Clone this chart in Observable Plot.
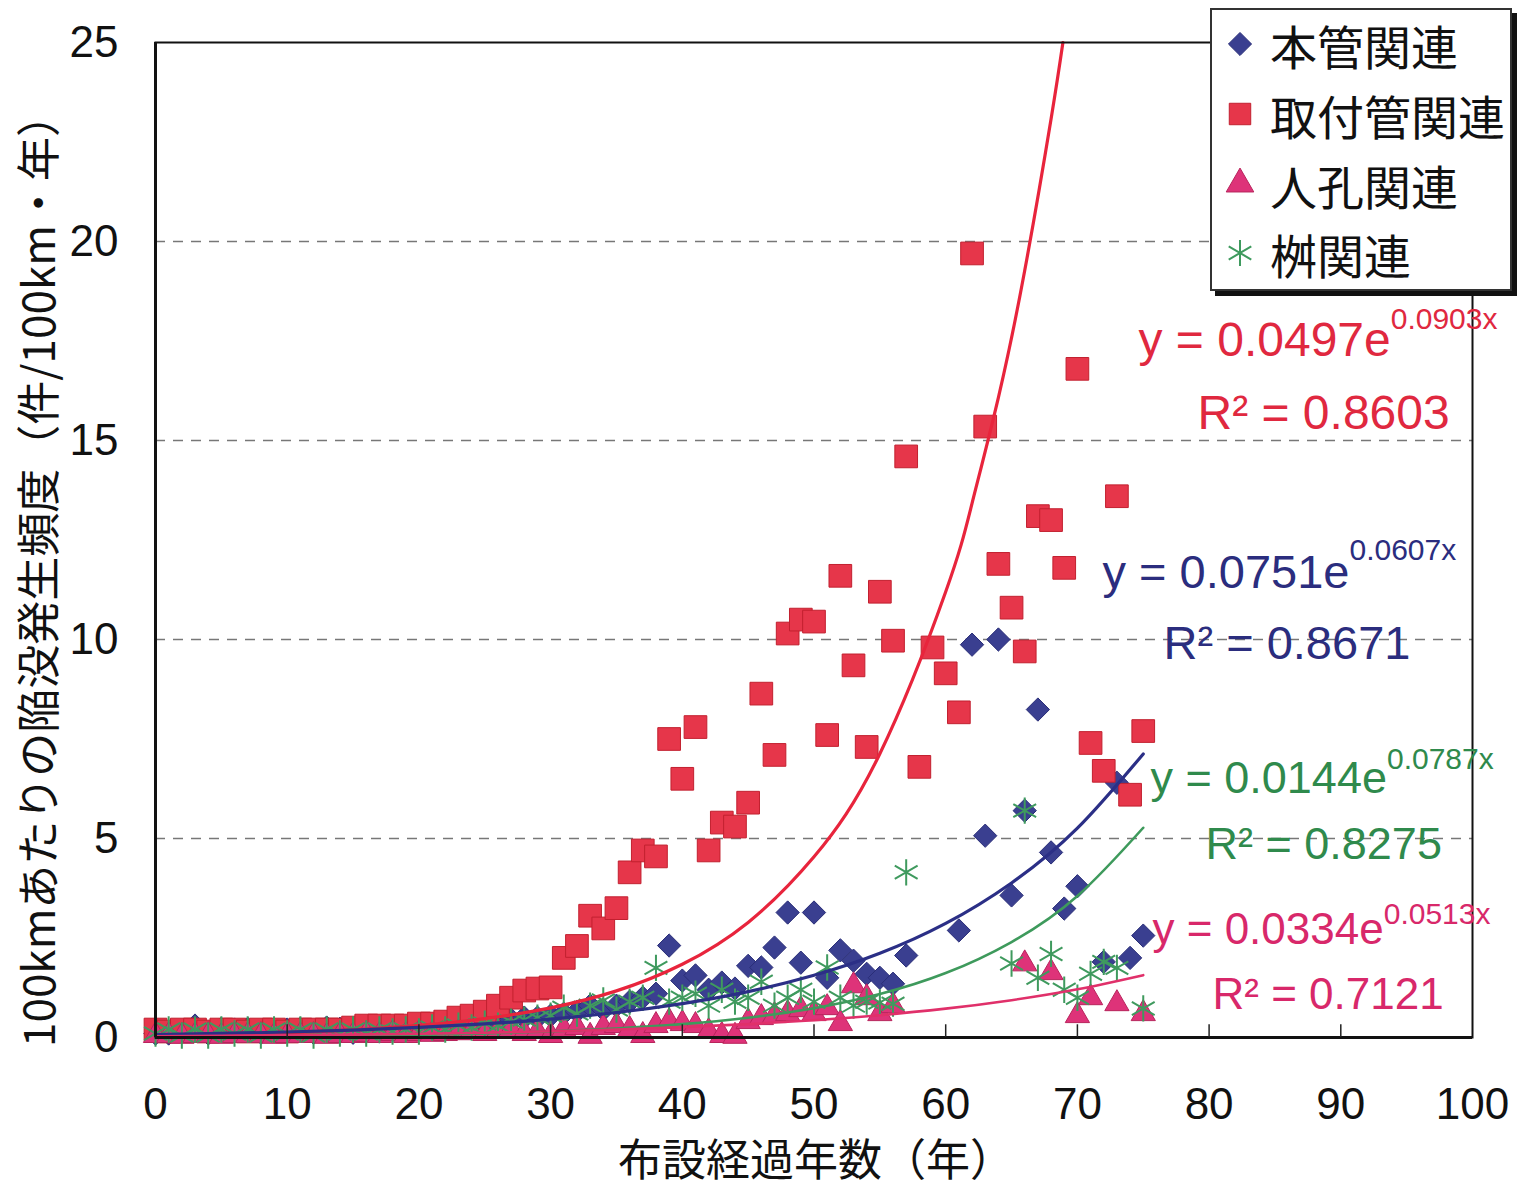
<!DOCTYPE html>
<html><head><meta charset="utf-8">
<script src="https://cdn.jsdelivr.net/npm/d3@7"></script>
<script src="https://cdn.jsdelivr.net/npm/@observablehq/plot@0.6"></script>
<style>
body{margin:0;background:#fff;}
#wrap{position:relative;width:1518px;height:1190px;}
#legend{position:absolute;left:1210px;top:8px;width:302px;height:283px;background:#fff;border:2px solid #333;box-shadow:5px 5px 0 #111;box-sizing:border-box;font-family:"Noto Sans CJK JP";font-size:47px;color:#111;}
.row{position:absolute;left:8px;height:60px;display:flex;align-items:center;white-space:nowrap;}
.row svg{margin-right:10px;}
</style></head>
<body><div id="wrap"><div id="chart"></div><div id="legend"></div></div>
<script>
// ---- data ----
const seriesNames = ["本管関連", "取付管関連", "人孔関連", "桝関連"];
const xTicks = [0,10,20,30,40,50,60,70,80,90,100];
const yTicks = [0,5,10,15,20,25];
const xLabel = "布設経過年数（年）";
const yLabel = "100kmあたりの陥没発生頻度（件/100km・年）";

const honkan = [[0,0.1],[1,0.1],[2,0.15],[3,0.3],[4,0.1],[5,0.22],[6,0.2],[7,0.22],[8,0.12],[9,0.2],[10,0.2],[11,0.22],[12,0.12],[13,0.25],[14,0.22],[15,0.12],[16,0.15],[17,0.15],[18,0.18],[19,0.2],[20,0.2],[21,0.22],[22,0.25],[23,0.3],[24,0.3],[25,0.35],[26,0.4],[27,0.45],[28,0.5],[29,0.5],[30,0.55],[31,0.6],[32,0.65],[33,0.8],[34,0.7],[35,0.8],[36,0.9],[37,1.0],[38,1.1],[39,2.31],[40,1.43],[41,1.56],[42,1.2],[43,1.38],[44,1.23],[45,1.8],[46,1.76],[47,2.26],[48,3.14],[49,1.88],[50,3.14],[51,1.5],[52,2.19],[53,1.93],[54,1.6],[55,1.5],[56,1.35],[57,2.06],[61,2.69],[62,9.87],[63,5.07],[64,10.0],[65,3.57],[66,5.7],[67,8.24],[68,4.65],[69,3.24],[70,3.8],[72,1.9],[73,6.4],[74,2.0],[75,2.56]];
const toritsuke = [[0,0.2],[1,0.15],[2,0.2],[3,0.2],[4,0.15],[5,0.2],[6,0.2],[7,0.15],[8,0.2],[9,0.2],[10,0.15],[11,0.2],[12,0.2],[13,0.2],[14,0.2],[15,0.25],[16,0.3],[17,0.3],[18,0.3],[19,0.3],[20,0.35],[21,0.35],[22,0.4],[23,0.5],[24,0.55],[25,0.65],[26,0.8],[27,1.0],[28,1.18],[29,1.23],[30,1.26],[31,2.0],[32,2.3],[33,3.06],[34,2.74],[35,3.25],[36,4.15],[37,4.7],[38,4.55],[39,7.5],[40,6.5],[41,7.8],[42,4.7],[43,5.4],[44,5.3],[45,5.9],[46,8.64],[47,7.1],[48,10.15],[49,10.5],[50,10.45],[51,7.6],[52,11.6],[53,9.35],[54,7.3],[55,11.2],[56,9.97],[57,14.6],[58,6.8],[59,9.8],[60,9.15],[61,8.17],[62,19.7],[63,15.35],[64,11.9],[65,10.8],[66,9.7],[67,13.1],[68,13.0],[69,11.8],[70,16.8],[71,7.4],[72,6.7],[73,13.6],[74,6.1],[75,7.7]];
const jinkou = [[0,0.05],[1,0.05],[2,0.03],[3,0.05],[4,0.05],[5,0.03],[6,0.05],[7,0.05],[8,0.05],[9,0.03],[10,0.05],[11,0.05],[12,0.05],[13,0.03],[14,0.05],[15,0.05],[16,0.08],[17,0.05],[18,0.1],[19,0.05],[20,0.1],[21,0.08],[22,0.1],[23,0.12],[24,0.15],[25,0.1],[26,0.15],[27,0.2],[28,0.1],[29,0.15],[30,0.05],[31,0.2],[32,0.25],[33,0.03],[34,0.25],[35,0.3],[36,0.2],[37,0.05],[38,0.3],[39,0.4],[40,0.35],[41,0.3],[42,0.15],[43,0.05],[44,0.03],[45,0.4],[46,0.5],[47,0.55],[48,0.6],[49,0.7],[50,0.6],[51,0.75],[52,0.35],[53,1.3],[54,1.0],[55,0.6],[56,0.8],[66,1.85],[68,1.63],[70,0.55],[71,1.0],[73,0.85],[75,0.6]];
const masu = [[0,0.1],[1,0.2],[2,0.05],[3,0.2],[4,0.05],[5,0.2],[6,0.1],[7,0.2],[8,0.05],[9,0.2],[10,0.1],[11,0.2],[12,0.05],[13,0.2],[14,0.1],[15,0.2],[16,0.1],[17,0.2],[18,0.15],[19,0.2],[20,0.15],[21,0.25],[22,0.2],[23,0.3],[24,0.25],[25,0.35],[26,0.3],[27,0.4],[28,0.45],[29,0.5],[30,0.55],[31,0.75],[32,0.6],[33,0.8],[34,0.93],[35,0.7],[36,0.9],[37,1.0],[38,1.75],[39,0.9],[40,1.0],[41,1.1],[42,0.8],[43,1.2],[44,0.9],[45,1.0],[46,1.4],[47,0.8],[48,1.0],[49,1.2],[50,0.9],[51,1.76],[52,1.0],[53,0.8],[54,0.9],[55,0.88],[56,0.85],[57,4.15],[65,1.86],[66,5.7],[67,1.5],[68,2.1],[69,1.2],[70,1.0],[71,1.6],[72,1.9],[73,1.75],[75,0.73]];

// trend curves
const honkanTrend = [[0,0.075],[5,0.102],[10,0.138],[15,0.187],[20,0.253],[25,0.343],[30,0.464],[35,0.629],[40,0.852],[45,1.153],[50,1.562],[55,2.116],[60,2.866],[65,3.883],[70,5.26],[75,7.125]];
const toritsukeTrend = [[0,0.05],[5,0.078],[10,0.123],[15,0.193],[20,0.303],[25,0.475],[30,0.746],[35,1.172],[40,1.841],[45,2.892],[50,4.541],[55,7.13],[60,11.2],[62,13.42],[64,16.08],[66,19.27],[68,23.08],[68.9,25.0]];
const jinkouTrend = [[0,0.033],[5,0.043],[10,0.056],[15,0.072],[20,0.093],[25,0.12],[30,0.156],[35,0.201],[40,0.26],[45,0.336],[50,0.434],[55,0.561],[60,0.725],[65,0.938],[70,1.211],[75,1.566]];
const masuTrend = [[0,0.014],[5,0.021],[10,0.032],[15,0.047],[20,0.07],[25,0.103],[30,0.153],[35,0.226],[40,0.335],[45,0.497],[50,0.737],[55,1.092],[60,1.619],[65,2.399],[70,3.556],[75,5.27]];

const fitEquations = ["y = 0.0751e", "y = 0.0497e", "y = 0.0334e", "y = 0.0144e"];
const fitExponents = ["0.0607x", "0.0903x", "0.0513x", "0.0787x"];
const fitR2 = ["R² = 0.8671", "R² = 0.8603", "R² = 0.7121", "R² = 0.8275"];

// ---- styles / layout ----
const colors = {
  honkan: {fill:"#3a3f90", stroke:"#2a2e78", line:"#2b2f86", text:"#2b2d7e"},
  toritsuke: {fill:"#e6364a", stroke:"#c2202f", line:"#e8243c", text:"#e0283f"},
  jinkou: {fill:"#de3379", stroke:"#b8245c", line:"#e0306a", text:"#d8286a"},
  masu: {fill:"none", stroke:"#3f9a5e", line:"#3e9a5c", text:"#2f8a4c"}
};
const order = ["honkan","toritsuke","jinkou","masu"];
// annotation placement in pixels (baseline-left)
const annLayout = [
  {eq:[1102,587], r2:[1163,658], size:47, raise:28},
  {eq:[1138,355], r2:[1197,428], size:48, raise:27},
  {eq:[1152,943], r2:[1212,1008], size:44, raise:20},
  {eq:[1150,792], r2:[1205,858], size:45, raise:24}
];
const M = {left:155, right:46, top:42, bottom:153};

const pts = a => a.map(([x,y]) => ({x,y}));

const annMarks = [];
order.forEach((k,i) => {
  const L = annLayout[i];
  annMarks.push(Plot.text([fitEquations[i]], {text:d=>d, frameAnchor:"top-left", dx:L.eq[0]-M.left, dy:L.eq[1]-M.top, textAnchor:"start", lineAnchor:"bottom", fontSize:L.size, fill:colors[k].text}));
  annMarks.push(Plot.text([fitR2[i]], {text:d=>d, frameAnchor:"top-left", dx:L.r2[0]-M.left, dy:L.r2[1]-M.top, textAnchor:"start", lineAnchor:"bottom", fontSize:L.size, fill:colors[k].text}));
});

const chart = Plot.plot({
  width:1518, height:1190,
  marginLeft:M.left, marginRight:M.right, marginTop:M.top, marginBottom:M.bottom,
  style:{fontFamily:"'Liberation Sans', Arial, sans-serif", fontSize:"44px", color:"#111", background:"#fff", overflow:"visible"},
  x:{domain:[0,100]},
  y:{domain:[0,25]},
  marks:[
    Plot.ruleY(yTicks.filter(v => v>0 && v<25), {y:d=>d, stroke:"#777", strokeWidth:1.6, strokeDasharray:"10,8"}),
    Plot.dot(pts(honkan), {x:"x", y:"y", symbol:"diamond2", r:10.5, fill:colors.honkan.fill, stroke:colors.honkan.stroke, strokeWidth:1}),
    Plot.dot(pts(toritsuke), {x:"x", y:"y", symbol:"square", r:12.8, fill:colors.toritsuke.fill, stroke:colors.toritsuke.stroke, strokeWidth:1}),
    Plot.dot(pts(jinkou), {x:"x", y:"y", symbol:"triangle", r:9, fill:colors.jinkou.fill, stroke:colors.jinkou.stroke, strokeWidth:1}),
    Plot.dot(pts(masu), {x:"x", y:"y", symbol:"asterisk", r:12.5, fill:"none", stroke:colors.masu.stroke, strokeWidth:2}),
    Plot.line(pts(toritsukeTrend), {x:"x", y:"y", stroke:colors.toritsuke.line, strokeWidth:3.2, curve:"natural"}),
    Plot.line(pts(honkanTrend), {x:"x", y:"y", stroke:colors.honkan.line, strokeWidth:3.2, curve:"natural"}),
    Plot.line(pts(masuTrend), {x:"x", y:"y", stroke:colors.masu.line, strokeWidth:2.6, curve:"natural"}),
    Plot.line(pts(jinkouTrend), {x:"x", y:"y", stroke:colors.jinkou.line, strokeWidth:2.6, curve:"natural"}),
    Plot.frame({stroke:"#111", strokeWidth:2}),
    Plot.ruleX([0], {stroke:"#111", strokeWidth:3}),
    Plot.ruleY([0], {stroke:"#111", strokeWidth:3}),
    Plot.ruleX(xTicks.filter(v => v>0 && v<100), {x:d=>d, y1:0, y2:0.32, stroke:"#222", strokeWidth:1.5}),
    Plot.axisX({ticks:xTicks, tickSize:0, tickPadding:50, label:null, fontSize:44, fill:"#111"}),
    Plot.axisY({ticks:yTicks, tickSize:0, tickPadding:37, label:null, fontSize:44, fill:"#111"}),
    Plot.text([xLabel], {text:d=>d, frameAnchor:"bottom", textAnchor:"middle", lineAnchor:"middle", dx:2, dy:124, fontSize:44, fontFamily:"'Noto Sans CJK JP'", fill:"#111"}),
    Plot.text([yLabel], {text:d=>d, frameAnchor:"left", textAnchor:"middle", lineAnchor:"middle", rotate:-90, dx:-115, dy:30, fontSize:44, fontFamily:"'Noto Sans CJK JP'", fill:"#111"}),
    ...annMarks
  ]
});

// superscript exponents after each equation
const supMap = new Map(fitEquations.map((e,i) => [e, {sup:fitExponents[i], raise:annLayout[i].raise}]));
d3.select(chart).selectAll("text").each(function(){
  const s = supMap.get(this.textContent);
  if (s) d3.select(this).append("tspan").attr("font-size", 30).attr("dy", -s.raise).text(s.sup);
});
document.getElementById("chart").appendChild(chart);

// legend
const legendSymbols = [d3.symbolDiamond2, d3.symbolSquare, d3.symbolTriangle, d3.symbolAsterisk];
const legendSizes = [340, 460, 330, 480];
const legendTops = [4, 74, 144, 213];
const lg = d3.select("#legend");
order.forEach((k,i) => {
  const row = lg.append("div").attr("class","row").style("top", legendTops[i]+"px");
  const s = row.append("svg").attr("width",40).attr("height",40);
  s.append("path").attr("transform","translate(20,20)")
    .attr("d", d3.symbol(legendSymbols[i], legendSizes[i])())
    .attr("fill", colors[k].fill).attr("stroke", colors[k].stroke).attr("stroke-width", k==="masu"?2:1);
  row.append("span").text(seriesNames[i]);
});
</script>
</body></html>
